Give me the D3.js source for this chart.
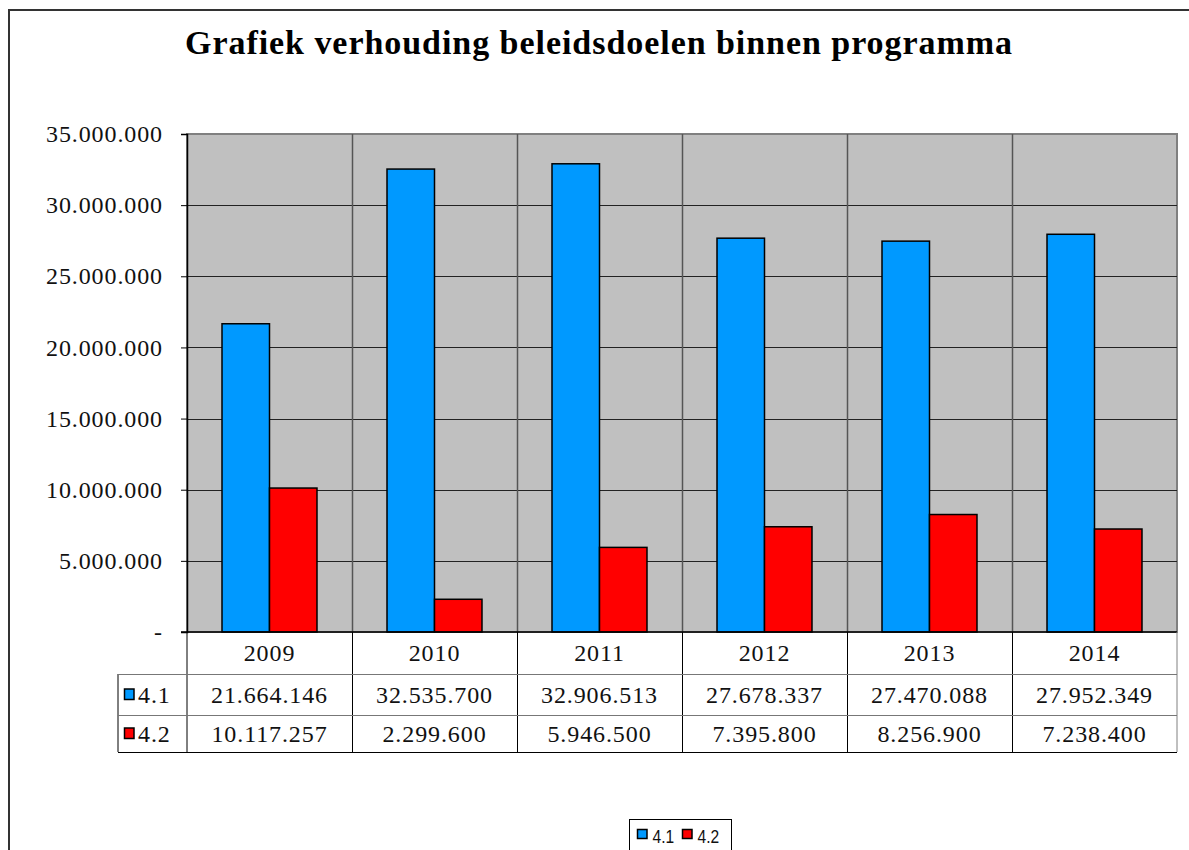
<!DOCTYPE html>
<html>
<head>
<meta charset="utf-8">
<script src="https://cdn.jsdelivr.net/npm/d3@7"></script>
<style>
  body { margin: 0; background: #fff; }
  svg { display: block; }
</style>
</head>
<body>
<svg id="chart"></svg>
<script>
const titleText = 'Grafiek verhouding beleidsdoelen binnen programma';
const years = ['2009', '2010', '2011', '2012', '2013', '2014'];
const seriesNames = ['4.1', '4.2'];
const values41 = [21664146, 32535700, 32906513, 27678337, 27470088, 27952349];
const values42 = [10117257, 2299600, 5946500, 7395800, 8256900, 7238400];
const yTicks = [0, 5000000, 10000000, 15000000, 20000000, 25000000, 30000000, 35000000];
const colors = ['#0099ff', '#ff0000'];

const W = 1189, H = 850;
const plot = { left: 187, right: 1177, top: 134, bottom: 632 };
const rowH = [42, 41, 37]; // header, 4.1, 4.2

const serif = '"Liberation Serif", "Times New Roman", serif';
const sans = '"Liberation Sans", Arial, sans-serif';

const svg = d3.select('#chart').attr('width', W).attr('height', H);

// outer chart frame (runs past the window on right and bottom)
svg.append('rect')
  .attr('x', 9).attr('y', 10)
  .attr('width', W + 20).attr('height', H + 20)
  .attr('fill', '#fff').attr('stroke', '#333').attr('stroke-width', 2);

svg.append('text')
  .attr('x', 599).attr('y', 54)
  .attr('text-anchor', 'middle')
  .attr('font-family', serif).attr('font-weight', 'bold')
  .attr('font-size', 34).attr('letter-spacing', 0.95)
  .text(titleText);

const x0 = d3.scaleBand().domain(years).range([plot.left, plot.right]);
const x1 = d3.scaleBand().domain(seriesNames).range([0, x0.bandwidth()]).paddingOuter(0.737);
const y = d3.scaleLinear().domain([0, 35000000]).range([plot.bottom, plot.top]);

const fmt = v => v === 0 ? '-' : d3.format(',')(v).replace(/,/g, '.');

// plot background
svg.append('rect')
  .attr('x', plot.left).attr('y', plot.top)
  .attr('width', plot.right - plot.left).attr('height', plot.bottom - plot.top)
  .attr('fill', '#c0c0c0').attr('stroke', '#808080').attr('stroke-width', 2);

// horizontal gridlines
svg.append('g').selectAll('line')
  .data(yTicks.filter(d => d > 0 && d < 35000000))
  .enter().append('line')
  .attr('x1', plot.left).attr('x2', plot.right)
  .attr('y1', d => Math.round(y(d)) + 0.5).attr('y2', d => Math.round(y(d)) + 0.5)
  .attr('stroke', '#222').attr('stroke-width', 1);

// category separators through plot and table
const tableBottom = plot.bottom + rowH[0] + rowH[1] + rowH[2];
svg.append('g').selectAll('line')
  .data(years.slice(1))
  .enter().append('line')
  .attr('x1', d => Math.round(x0(d)) + 0.5).attr('x2', d => Math.round(x0(d)) + 0.5)
  .attr('y1', plot.top).attr('y2', plot.bottom)
  .attr('stroke', '#555').attr('stroke-width', 1.5);

// bars
const data = years.map((yr, i) => ({ year: yr, vals: [values41[i], values42[i]] }));
svg.append('g').selectAll('g')
  .data(data)
  .enter().append('g')
  .attr('transform', d => `translate(${x0(d.year)},0)`)
  .selectAll('rect')
  .data(d => d.vals.map((v, j) => ({ key: seriesNames[j], v, j })))
  .enter().append('rect')
  .attr('x', d => x1(d.key))
  .attr('y', d => y(d.v))
  .attr('width', x1.bandwidth())
  .attr('height', d => y(0) - y(d.v))
  .attr('fill', d => colors[d.j])
  .attr('stroke', '#000').attr('stroke-width', 1.5);

// y axis
const yAxis = svg.append('g')
  .attr('transform', `translate(${plot.left},0)`)
  .call(d3.axisLeft(y).tickValues(yTicks).tickFormat(fmt).tickSize(6).tickPadding(18));
yAxis.select('.domain').attr('stroke', '#000').attr('stroke-width', 1.5);
yAxis.selectAll('.tick line').attr('stroke', '#000');
yAxis.selectAll('.tick text')
  .attr('font-family', serif).attr('font-size', 24)
  .attr('letter-spacing', 0.9).attr('fill', '#111');

// baseline
svg.append('line')
  .attr('x1', plot.left - 6).attr('x2', plot.right)
  .attr('y1', plot.bottom).attr('y2', plot.bottom)
  .attr('stroke', '#000').attr('stroke-width', 1.5);

// data table
const table = svg.append('g');
const keyLeft = 118;
const rowTops = [plot.bottom, plot.bottom + rowH[0], plot.bottom + rowH[0] + rowH[1]];

table.append('line')
  .attr('x1', plot.left).attr('x2', plot.left)
  .attr('y1', plot.bottom).attr('y2', tableBottom)
  .attr('stroke', '#000');
table.append('line')
  .attr('x1', keyLeft).attr('x2', keyLeft)
  .attr('y1', rowTops[1]).attr('y2', tableBottom)
  .attr('stroke', '#000');
table.append('line')
  .attr('x1', plot.right).attr('x2', plot.right)
  .attr('y1', plot.bottom).attr('y2', tableBottom)
  .attr('stroke', '#808080');
table.selectAll('.sep')
  .data(years.slice(1))
  .enter().append('line')
  .attr('x1', d => Math.round(x0(d)) + 0.5).attr('x2', d => Math.round(x0(d)) + 0.5)
  .attr('y1', plot.bottom).attr('y2', tableBottom)
  .attr('stroke', '#000');
[[rowTops[1], '#777'], [rowTops[2], '#777'], [tableBottom, '#000']].forEach(([yy, c]) => {
  table.append('line')
    .attr('x1', keyLeft).attr('x2', plot.right)
    .attr('y1', yy + 0.5).attr('y2', yy + 0.5)
    .attr('stroke', c);
});

const cellText = (sel) => sel
  .attr('text-anchor', 'middle').attr('dy', '0.35em')
  .attr('font-family', serif).attr('font-size', 24)
  .attr('letter-spacing', 0.9).attr('fill', '#111');

table.selectAll('.yr')
  .data(years).enter().append('text')
  .attr('x', d => x0(d) + x0.bandwidth() / 2)
  .attr('y', rowTops[0] + rowH[0] / 2)
  .call(cellText)
  .text(d => d);

[values41, values42].forEach((vals, j) => {
  const cy = rowTops[j + 1] + rowH[j + 1] / 2;
  table.selectAll('.v' + j)
    .data(vals).enter().append('text')
    .attr('x', (d, i) => x0(years[i]) + x0.bandwidth() / 2)
    .attr('y', cy)
    .call(cellText)
    .text(d => fmt(d));
  table.append('rect')
    .attr('x', keyLeft + 6.5).attr('y', cy - 5.5)
    .attr('width', 9.5).attr('height', 10.5)
    .attr('fill', colors[j]).attr('stroke', '#000').attr('stroke-width', 1.5);
  table.append('text')
    .attr('x', keyLeft + 20).attr('y', cy).attr('dy', '0.35em')
    .attr('font-family', serif).attr('font-size', 24)
    .attr('letter-spacing', 0.9).attr('fill', '#111')
    .text(seriesNames[j]);
});

// bottom legend
const legend = svg.append('g').attr('transform', 'translate(629,819)');
legend.append('rect')
  .attr('x', 0.5).attr('y', 0.5).attr('width', 102).attr('height', 40)
  .attr('fill', '#fff').attr('stroke', '#000');
const legendX = d3.scaleOrdinal().domain(seriesNames).range([8.5, 53.5]);
seriesNames.forEach((s, j) => {
  legend.append('rect')
    .attr('x', legendX(s)).attr('y', 10.5).attr('width', 9.5).attr('height', 9)
    .attr('fill', colors[j]).attr('stroke', '#000').attr('stroke-width', 1.5);
  legend.append('text')
    .attr('transform', `translate(${legendX(s) + 15},24) scale(0.82,1)`)
    .attr('font-family', sans).attr('font-size', 19).attr('fill', '#111')
    .text(s);
});
</script>
</body>
</html>
